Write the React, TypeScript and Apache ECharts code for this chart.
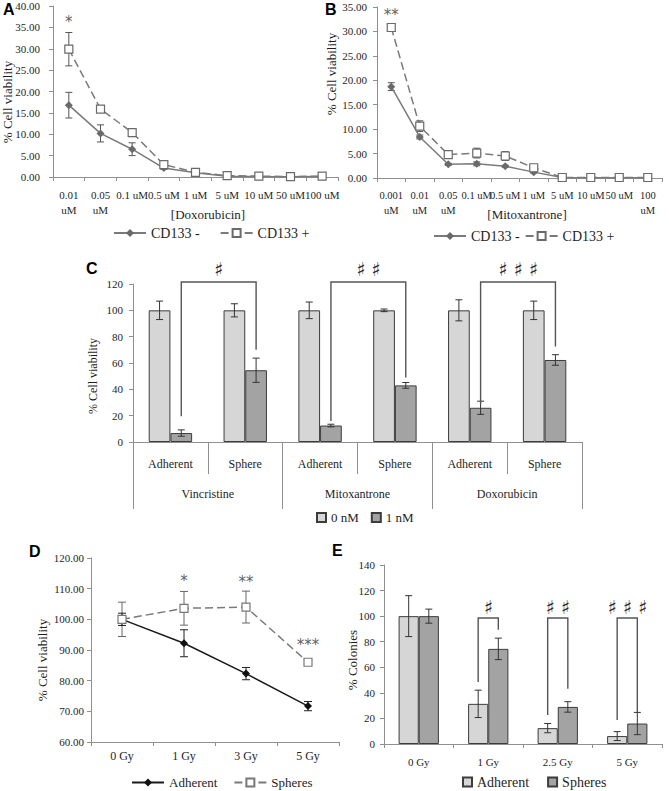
import React, { useEffect, useRef } from 'react';
import * as echarts from 'echarts';

const SERIF = 'Liberation Serif, Times New Roman, Times, serif';
const SANS = 'Liberation Sans, Arial, Helvetica, sans-serif';
const SYM = 'DejaVu Sans, sans-serif';

// ---------- Panel A : Doxorubicin ----------
const doseA = ['0.01\nuM', '0.05\nuM', '0.1 uM', '0.5 uM', '1 uM', '5 uM', '10 uM', '50 uM', '100 uM'];
const aNeg = [16.8, 10.2, 6.5, 2.1, 1.0, 0.2, 0.1, 0.05, 0.1];
const aNegErr = [3.0, 2.0, 1.5, 0.3, 0.2, 0.05, 0.05, 0.05, 0.05];
const aPos = [29.9, 15.9, 10.4, 2.9, 1.1, 0.3, 0.2, 0.1, 0.2];
const aPosErr = [3.9, 0.8, 0.7, 0.3, 0.3, 0.1, 0.1, 0.1, 0.1];
const aStarLabels = ['*'];
const aStarPos = [[0, 37]];

// ---------- Panel B : Mitoxantrone ----------
const doseB = ['0.001\nuM', '0.01\nuM', '0.05\nuM', '0.1 uM', '0.5 uM', '1 uM', '5 uM', '10 uM', '50 uM', '100\nuM'];
const bNeg = [18.7, 8.4, 2.8, 2.9, 2.4, 1.2, 0.1, 0.05, 0.05, 0.05];
const bNegErr = [0.8, 0.4, 0.2, 0.4, 0.2, 0.2, 0.05, 0.02, 0.02, 0.02];
const bPos = [30.8, 10.6, 4.8, 5.1, 4.5, 2.1, 0.1, 0.1, 0.1, 0.1];
const bPosErr = [0.6, 1.1, 0.3, 1.0, 0.9, 0.3, 0.05, 0.05, 0.05, 0.05];
const bStarLabels = ['**'];
const bStarPos = [[0, 34]];

// ---------- Panel C : drug viability ----------
const drugs = ['Vincristine', 'Mitoxantrone', 'Doxorubicin'];
const cellTypes = ['Adherent', 'Sphere', 'Adherent', 'Sphere', 'Adherent', 'Sphere'];
const c0 = [100, 100, 100, 100, 100, 100];
const c0Err = [7, 5, 6.3, 1, 8, 7];
const c1 = [6.8, 54.5, 12.5, 43, 26, 62.3];
const c1Err = [2.4, 9.2, 1, 2.2, 5, 4];
const cBracketLeft = [19.5, 16, 29];
const cBracketRight = [70, 49, 72.5];
const cBracketTop = 121.5;
const cHashY = 131.6;
const cHash = ['\u266F', '\u266F \u266F', '\u266F \u266F \u266F'];

// ---------- Panel D : radiation viability ----------
const gyD = ['0 Gy', '1 Gy', '3 Gy', '5 Gy'];
const dAdh = [100, 92.2, 82.3, 71.7];
const dAdhErr = [2, 4.4, 2, 1.5];
const dSph = [100, 103.6, 104, 86];
const dSphErr = [5.6, 5.5, 5.2, 0.3];
const dStarLabels = ['*', '**', '***'];
const dStarPos = [[1, 113.5], [2, 113.1], [3, 92.5]];

// ---------- Panel E : colonies ----------
const gyE = ['0 Gy', '1 Gy', '2.5 Gy', '5 Gy'];
const eAdh = [100, 31.4, 12.4, 6.2];
const eAdhErr = [16, 10.7, 3.6, 3.5];
const eSph = [100, 74.4, 29, 16];
const eSphErr = [5.5, 8.4, 4.1, 8.7];
const eBracketCats = [1, 2, 3];
const eBracketLeft = [48.5, 22.6, 18.7];
const eBracketRight = [89.4, 43.3, 25.1];
const eBracketTop = 98.5;
const eHashY = 107.3;
const eHash = ['\u266F', '\u266F \u266F', '\u266F \u266F \u266F'];

const AX = '#8f8f8f';
const TXT = '#1e1e1e';
const INK = '#2a2a2a';
const LIGHT = '#d6d6d6';
const DARK = '#a3a3a3';
const BORDER = '#3c3c3c';
const BW = 0.29;

function catAxis(gridIndex: number, data: string[], fontSize: number, margin: number) {
  return {
    type: 'category', gridIndex, data, boundaryGap: true,
    axisLine: { show: true, lineStyle: { color: AX, width: 1 } },
    axisTick: { show: true, length: 4, interval: 0, lineStyle: { color: AX } },
    axisLabel: { interval: 0, color: TXT, fontFamily: SERIF, fontSize, margin, lineHeight: 15 },
    splitLine: { show: false },
  };
}

function valAxis(gridIndex: number, min: number, max: number, interval: number, dec: number, fontSize: number, margin: number) {
  return {
    type: 'value', gridIndex, min, max, interval,
    axisLine: { show: true, lineStyle: { color: AX, width: 1 } },
    axisTick: { show: true, length: 4, lineStyle: { color: AX } },
    axisLabel: { color: TXT, fontFamily: SERIF, fontSize, margin, formatter: (v: number) => v.toFixed(dec) },
    splitLine: { show: false },
  };
}

function errSeries(xi: number, yi: number, vals: number[], errs: number[], off: number, color: string, cap: number, z: number) {
  return {
    type: 'custom', xAxisIndex: xi, yAxisIndex: yi, z, silent: true,
    itemStyle: { color },
    data: vals.map((v, i) => [i, v, errs[i]]),
    encode: { x: 0, y: 1 },
    renderItem: (params: any, api: any) => {
      const i = api.value(0), v = api.value(1), e = api.value(2);
      const band = api.size([1, 0])[0];
      const t = api.coord([i, v + e]);
      const b = api.coord([i, v - e]);
      const x = t[0] + off * band;
      const st = { stroke: color, lineWidth: 1 };
      return {
        type: 'group', children: [
          { type: 'line', shape: { x1: x, y1: t[1], x2: x, y2: b[1] }, style: st },
          { type: 'line', shape: { x1: x - cap, y1: t[1], x2: x + cap, y2: t[1] }, style: st },
          { type: 'line', shape: { x1: x - cap, y1: b[1], x2: x + cap, y2: b[1] }, style: st },
        ],
      };
    },
  };
}

function textStyle(text: string, fontSize: number, family: string) {
  return {
    text, fill: INK, font: `${fontSize}px ${family}`,
    align: 'center', verticalAlign: 'middle',
  };
}

// significance stars drawn as labels of invisible scatter points
function annotSeries(xi: number, yi: number, pts: number[][], labels: string[], fontSize: number, dy: number) {
  return {
    type: 'scatter', xAxisIndex: xi, yAxisIndex: yi, z: 6, silent: true,
    symbol: 'circle', symbolSize: 0,
    itemStyle: { color: 'rgba(0,0,0,0)' },
    data: pts,
    label: {
      show: true, position: 'inside', offset: [0, dy],
      formatter: (p: any) => labels[p.dataIndex],
      color: '#333333', fontFamily: SYM, fontSize,
    },
  };
}

function bracketSeries(xi: number, yi: number, data: number[][], leftCat: (k: number) => number, rightCat: (k: number) => number,
  leftOff: number, rightOff: number, top: number, hashY: number, hashes: string[]) {
  return {
    type: 'custom', xAxisIndex: xi, yAxisIndex: yi, z: 5, silent: true,
    itemStyle: { color: INK },
    data, encode: { x: 0, y: 1 },
    renderItem: (params: any, api: any) => {
      const k = api.value(0), l = api.value(1), r = api.value(2);
      const band = api.size([1, 0])[0];
      const pL = api.coord([leftCat(k), l]);
      const pR = api.coord([rightCat(k), r]);
      const yT = api.coord([leftCat(k), top])[1];
      const yH = api.coord([leftCat(k), hashY])[1];
      const xl = pL[0] + leftOff * band;
      const xr = pR[0] + rightOff * band;
      return {
        type: 'group', children: [
          { type: 'polyline', shape: { points: [[xl, pL[1]], [xl, yT], [xr, yT], [xr, pR[1]]] }, style: { stroke: '#555', fill: 'none', lineWidth: 1.4 } },
          { type: 'text', x: (xl + xr) / 2, y: yH, style: textStyle(hashes[params.dataIndex], 19, SYM) },
        ],
      };
    },
  };
}

function gtext(text: string, x: number, y: number, fontSize: number, family: string, opts: any = {}) {
  return {
    type: 'text', x, y, rotation: opts.rotate ? Math.PI / 2 : 0, silent: true,
    style: {
      text, fill: opts.color || TXT, font: `${opts.bold ? 'bold ' : ''}${fontSize}px ${family}`,
      align: opts.align || 'center', verticalAlign: 'middle',
    },
  };
}

const strip = (name: string) => name.replace(/^[A-E]:/, '');

function legendBase(extra: any) {
  return {
    padding: 0, selectedMode: false, formatter: strip,
    textStyle: { fontFamily: SERIF, fontSize: 14, color: TXT },
    ...extra,
  };
}

function buildOption(): any {
  return {
    animation: false,
    backgroundColor: '#ffffff',
    grid: [
      { left: 53, top: 6, width: 285, height: 171 },
      { left: 377, top: 7, width: 285, height: 171 },
      { left: 133, top: 284, width: 449, height: 158 },
      { left: 91, top: 558, width: 248, height: 184 },
      { left: 384, top: 565, width: 278, height: 179 },
    ],
    xAxis: [
      catAxis(0, doseA, 11, 10),
      catAxis(1, doseB, 10.5, 10),
      {
        ...catAxis(2, cellTypes, 12, 14),
        axisTick: { show: true, length: 32, interval: 0, lineStyle: { color: AX } },
      },
      {
        type: 'category', gridIndex: 2, data: drugs, boundaryGap: true, position: 'bottom',
        axisLine: { show: false },
        axisTick: { show: true, length: 67, interval: 0, lineStyle: { color: AX } },
        axisLabel: { interval: 0, color: TXT, fontFamily: SERIF, fontSize: 12, margin: 46 },
        splitLine: { show: false },
      },
      catAxis(3, gyD, 12, 6),
      catAxis(4, gyE, 11, 10),
    ],
    yAxis: [
      valAxis(0, 0, 40, 5, 2, 11, 13),
      valAxis(1, 0, 35, 5, 2, 11, 10),
      valAxis(2, 0, 120, 20, 0, 11, 10),
      valAxis(3, 60, 120, 10, 2, 11, 7),
      valAxis(4, 0, 140, 20, 0, 11, 9),
    ],
    legend: [
      legendBase({ data: ['A:CD133 -', 'A:CD133 +'], left: 113, top: 226, itemWidth: 32, itemHeight: 10, itemGap: 20 }),
      legendBase({ data: ['B:CD133 -', 'B:CD133 +'], left: 433, top: 229, itemWidth: 32, itemHeight: 10, itemGap: 5 }),
      legendBase({
        data: ['0 nM', '1 nM'], left: 316, top: 511, itemWidth: 9, itemHeight: 9, itemGap: 12, icon: 'rect',
        textStyle: { fontFamily: SERIF, fontSize: 13, color: TXT },
      }),
      legendBase({
        data: ['D:Adherent', 'D:Spheres'], left: 131, top: 776, itemWidth: 32, itemHeight: 10, itemGap: 16,
        textStyle: { fontFamily: SERIF, fontSize: 13, color: TXT },
      }),
      legendBase({ data: ['E:Adherent', 'E:Spheres'], left: 462, top: 775, itemWidth: 9, itemHeight: 9, itemGap: 18, icon: 'rect' }),
    ],
    graphic: [
      gtext('A', 3, 9, 16, SANS, { bold: true, align: 'left', color: '#000' }),
      gtext('B', 325, 9, 16, SANS, { bold: true, align: 'left', color: '#000' }),
      gtext('C', 86, 268, 16, SANS, { bold: true, align: 'left', color: '#000' }),
      gtext('D', 29, 551, 16, SANS, { bold: true, align: 'left', color: '#000' }),
      gtext('E', 332, 550, 16, SANS, { bold: true, align: 'left', color: '#000' }),
      gtext('% Cell viability', 7, 102, 13, SERIF, { rotate: true }),
      gtext('% Cell viability', 331, 74, 13, SERIF, { rotate: true }),
      gtext('% Cell viability', 93, 376, 12, SERIF, { rotate: true }),
      gtext('% Cell viability', 42, 660, 13, SERIF, { rotate: true }),
      gtext('% Colonies', 352, 660, 13, SERIF, { rotate: true }),
      gtext('[Doxorubicin]', 208, 214, 13, SERIF),
      gtext('[Mitoxantrone]', 527, 214, 13, SERIF),
    ],
    series: [
      // A
      errSeries(0, 0, aNeg, aNegErr, 0, '#555', 3.5, 1),
      errSeries(0, 0, aPos, aPosErr, 0, '#555', 3.5, 1),
      {
        name: 'A:CD133 -', type: 'line', xAxisIndex: 0, yAxisIndex: 0, data: aNeg, z: 3,
        symbol: 'diamond', symbolSize: 8, itemStyle: { color: '#6a6a6a' }, lineStyle: { color: '#7a7a7a', width: 1.5 },
      },
      {
        name: 'A:CD133 +', type: 'line', xAxisIndex: 0, yAxisIndex: 0, data: aPos, z: 3,
        symbol: 'rect', symbolSize: 8, itemStyle: { color: '#ffffff', borderColor: '#6a6a6a', borderWidth: 1.2 },
        lineStyle: { color: '#7a7a7a', width: 1.5, type: [8, 4] },
      },
      annotSeries(0, 0, aStarPos, aStarLabels, 15, 3),
      // B
      errSeries(1, 1, bNeg, bNegErr, 0, '#555', 3.5, 1),
      errSeries(1, 1, bPos, bPosErr, 0, '#555', 3.5, 1),
      {
        name: 'B:CD133 -', type: 'line', xAxisIndex: 1, yAxisIndex: 1, data: bNeg, z: 3,
        symbol: 'diamond', symbolSize: 8, itemStyle: { color: '#6a6a6a' }, lineStyle: { color: '#7a7a7a', width: 1.5 },
      },
      {
        name: 'B:CD133 +', type: 'line', xAxisIndex: 1, yAxisIndex: 1, data: bPos, z: 3,
        symbol: 'rect', symbolSize: 8, itemStyle: { color: '#ffffff', borderColor: '#6a6a6a', borderWidth: 1.2 },
        lineStyle: { color: '#7a7a7a', width: 1.5, type: [8, 4] },
      },
      annotSeries(1, 1, bStarPos, bStarLabels, 15, 3),
      // C
      {
        name: '0 nM', type: 'bar', xAxisIndex: 2, yAxisIndex: 2, data: c0, barWidth: `${BW * 100}%`, barGap: '0%', z: 2,
        itemStyle: { color: LIGHT, borderColor: BORDER, borderWidth: 1 },
      },
      {
        name: '1 nM', type: 'bar', xAxisIndex: 2, yAxisIndex: 2, data: c1, barWidth: `${BW * 100}%`, barGap: '0%', z: 2,
        itemStyle: { color: DARK, borderColor: BORDER, borderWidth: 1 },
      },
      errSeries(2, 2, c0, c0Err, -BW / 2, '#333', 3.5, 3),
      errSeries(2, 2, c1, c1Err, BW / 2, '#333', 3.5, 3),
      bracketSeries(2, 2, cBracketLeft.map((l, g) => [g, l, cBracketRight[g]]), (k) => 2 * k, (k) => 2 * k + 1,
        BW / 2, BW / 2, cBracketTop, cHashY, cHash),
      // D
      errSeries(4, 3, dSph, dSphErr, 0, '#666', 4, 1),
      errSeries(4, 3, dAdh, dAdhErr, 0, '#222', 4, 1),
      {
        name: 'D:Adherent', type: 'line', xAxisIndex: 4, yAxisIndex: 3, data: dAdh, z: 3,
        symbol: 'diamond', symbolSize: 8, itemStyle: { color: '#111' }, lineStyle: { color: '#1a1a1a', width: 1.5 },
      },
      {
        name: 'D:Spheres', type: 'line', xAxisIndex: 4, yAxisIndex: 3, data: dSph, z: 3,
        symbol: 'rect', symbolSize: 8, itemStyle: { color: '#ffffff', borderColor: '#777', borderWidth: 1.2 },
        lineStyle: { color: '#7a7a7a', width: 1.5, type: [8, 4] },
      },
      annotSeries(4, 3, dStarPos, dStarLabels, 15, 3),
      // E
      {
        name: 'E:Adherent', type: 'bar', xAxisIndex: 5, yAxisIndex: 4, data: eAdh, barWidth: `${BW * 100}%`, barGap: '0%', z: 2,
        itemStyle: { color: LIGHT, borderColor: BORDER, borderWidth: 1 },
      },
      {
        name: 'E:Spheres', type: 'bar', xAxisIndex: 5, yAxisIndex: 4, data: eSph, barWidth: `${BW * 100}%`, barGap: '0%', z: 2,
        itemStyle: { color: DARK, borderColor: BORDER, borderWidth: 1 },
      },
      errSeries(5, 4, eAdh, eAdhErr, -BW / 2, '#333', 3.5, 3),
      errSeries(5, 4, eSph, eSphErr, BW / 2, '#333', 3.5, 3),
      bracketSeries(5, 4, eBracketCats.map((c, i) => [c, eBracketLeft[i], eBracketRight[i]]), (k) => k, (k) => k,
        -BW / 2, BW / 2, eBracketTop, eHashY, eHash),
    ],
  };
}

export default function App() {
  const ref = useRef<HTMLDivElement>(null);
  useEffect(() => {
    if (!ref.current) return;
    const chart = echarts.init(ref.current, undefined, { renderer: 'svg' });
    chart.setOption(buildOption());
    return () => chart.dispose();
  }, []);
  return (
    <div
      ref={ref}
      style={{ position: 'fixed', left: 0, top: 0, width: 669, height: 791, background: '#fff' }}
    />
  );
}
